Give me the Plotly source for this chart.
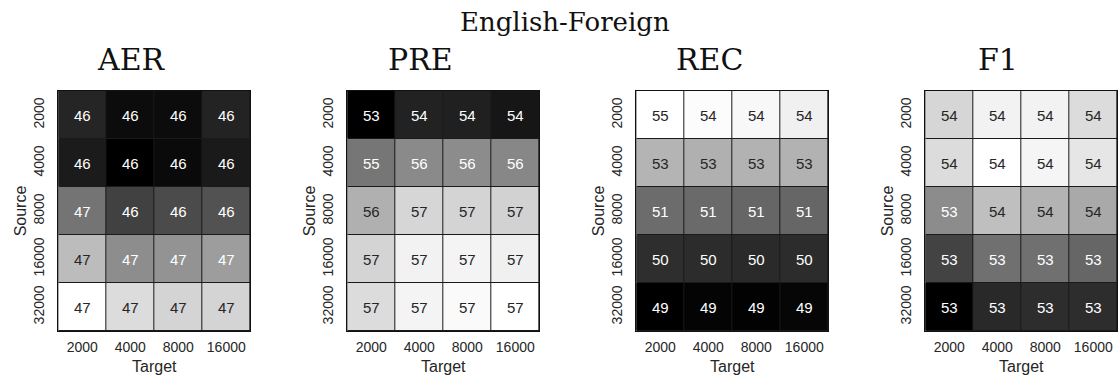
import plotly.graph_objects as go

W, H = 1118, 376

targets = ["2000", "4000", "8000", "16000"]
sources = ["2000", "4000", "8000", "16000", "32000"]
metrics = ["AER", "PRE", "REC", "F1"]
main_title = "English-Foreign"

aer = [[46.19, 46.06, 46.06, 46.18],
       [46.14, 46.00, 46.05, 46.13],
       [46.59, 46.33, 46.38, 46.42],
       [46.96, 46.72, 46.75, 46.80],
       [47.30, 47.12, 47.08, 47.08]]
pre = [[53.40, 53.93, 53.90, 53.75],
       [55.25, 55.56, 55.60, 55.52],
       [56.16, 56.76, 56.73, 56.69],
       [56.73, 57.20, 57.23, 57.16],
       [56.85, 57.23, 57.32, 57.40]]
rec = [[54.52, 54.46, 54.37, 54.21],
       [52.96, 52.87, 52.91, 52.91],
       [51.45, 51.41, 51.33, 51.33],
       [50.16, 50.12, 50.08, 50.12],
       [49.20, 49.28, 49.24, 49.33]]
f1 = [[53.67, 53.76, 53.76, 53.69],
      [53.69, 53.80, 53.77, 53.72],
      [53.44, 53.60, 53.56, 53.53],
      [53.21, 53.35, 53.35, 53.32],
      [53.00, 53.13, 53.14, 53.14]]
panels = [aer, pre, rec, f1]

xi = list(range(len(targets)))
yi = list(range(len(sources)))

# layout (pixels)
left_px = [58.3, 347.3, 636.3, 925.3]
pw, ph = 192, 240
top_px, bot_px = 91, 331

SANS = "Liberation Sans, Arial, sans-serif"
SERIF = "DejaVu Serif, serif"

fig = go.Figure()
annotations = []
for i, (name, z) in enumerate(zip(metrics, panels)):
    xa = "x" if i == 0 else f"x{i+1}"
    ya = "y" if i == 0 else f"y{i+1}"
    flat = [v for r in z for v in r]
    zmin, zmax = min(flat), max(flat)
    fig.add_trace(go.Heatmap(
        z=z, x=xi, y=yi, xaxis=xa, yaxis=ya,
        colorscale=[[0, "#000000"], [1, "#ffffff"]], zmin=zmin, zmax=zmax,
        showscale=False, xgap=1, ygap=1, hoverinfo="skip"))
    for r in yi:
        for c in xi:
            v = z[r][c]
            n = (v - zmin) / (zmax - zmin)
            annotations.append(dict(
                x=c, y=r, xref=xa, yref=ya, text=f"{v:.0f}", showarrow=False,
                font=dict(family=SANS, size=15,
                          color="#262626" if n > 0.64 else "#ffffff")))
    x0 = left_px[i] / W
    x1 = min((left_px[i] + pw) / W, 0.9996)
    axkey = "xaxis" if i == 0 else f"xaxis{i+1}"
    aykey = "yaxis" if i == 0 else f"yaxis{i+1}"
    fig.layout[axkey] = dict(
        domain=[x0, x1], anchor=ya, range=[-0.5, len(targets) - 0.5],
        tickmode="array", tickvals=xi, ticktext=targets, automargin=False,
        showline=True, mirror=True, linecolor="#111", linewidth=1,
        ticks="outside", ticklen=3, tickcolor="rgba(0,0,0,0)",
        tickfont=dict(family=SANS, size=14, color="#262626"),
        title=dict(text="Target", standoff=7,
                   font=dict(family=SANS, size=16, color="#262626")),
        showgrid=False, zeroline=False, fixedrange=True)
    fig.layout[aykey] = dict(
        domain=[1 - bot_px / H, 1 - top_px / H], anchor=xa,
        range=[len(sources) - 0.5, -0.5],
        tickmode="array", tickvals=yi, ticktext=sources, tickangle=-90, automargin=False,
        showline=True, mirror=True, linecolor="#111", linewidth=1,
        ticks="outside", ticklen=8, tickcolor="rgba(0,0,0,0)",
        tickfont=dict(family=SANS, size=14, color="#262626"),
        title=dict(text="Source", standoff=0,
                   font=dict(family=SANS, size=16, color="#262626")),
        showgrid=False, zeroline=False, fixedrange=True)
    # subplot title
    cx = (left_px[i] + pw / 2 - 23) / W
    annotations.append(dict(
        x=cx, y=1 - 59 / H, xref="paper", yref="paper", text=name, showarrow=False,
        xanchor="center", yanchor="middle",
        font=dict(family=SERIF, size=30, color="#111")))

annotations.append(dict(
    x=565 / W, y=1 - 22 / H, xref="paper", yref="paper", text=main_title, showarrow=False,
    xanchor="center", yanchor="middle",
    font=dict(family=SERIF, size=26, color="#111")))

fig.update_layout(
    width=W, height=H, margin=dict(l=0, r=0, t=0, b=0),
    paper_bgcolor="white", plot_bgcolor="#1a1a1a",
    annotations=annotations, showlegend=False)

fig.write_html("out.html", config={"displayModeBar": False},
               post_script="document.body.style.margin='0';document.body.style.overflow='hidden';")
